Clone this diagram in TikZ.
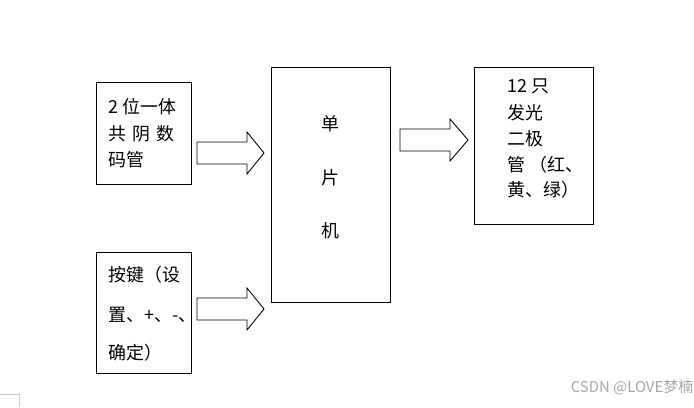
\documentclass[tikz,border=0pt]{standalone}
\usepackage{fontspec}
\newfontfamily\cjk{Noto Sans CJK SC}
\usetikzlibrary{calc}

% hollow block arrow: start, tip, head length
\newcommand{\fatarrow}[3]{%
  \draw[fat] ($(#1)+(0,-11)$) -- ($(#2)+(-#3,-11)$) -- ($(#2)+(-#3,-21)$) -- (#2)
    -- ($(#2)+(-#3,21)$) -- ($(#2)+(-#3,11)$) -- ($(#1)+(0,11)$) -- cycle;}

\begin{document}
\begin{tikzpicture}[x=0.02cm, y=-0.02cm,
    box/.style={draw, line width=0.5pt, inner sep=0pt},
    txt/.style={anchor=base west, inner sep=0pt, font=\cjk\fontsize{10.2}{12}\selectfont},
    fat/.style={draw, line width=0.5pt, line join=miter}]
  \useasboundingbox (0,0) rectangle (694,407);

  % boxes
  \node[box, minimum width=1.9cm, minimum height=2.04cm] (seg) at (143.5,133) {};
  \node[box, minimum width=1.9cm, minimum height=2.42cm] (key) at (143.5,312.5) {};
  \node[box, minimum width=2.38cm, minimum height=4.7cm] (mcu) at (330.5,184.5) {};
  \node[box, minimum width=2.38cm, minimum height=3.14cm] (led) at (533.5,145.5) {};

  % box texts
  \node[txt] (seg1) at (108,113) {2 位一体};
  \node[txt] (seg2) at (108,140) {共\hspace{0.12cm}阴\hspace{0.12cm}数};
  \node[txt] (seg3) at (108,166) {码管};

  \node[txt] (key1) at (108,281) {按键（设};
  \node[txt] (key2) at (108,321) {置、+、-、};
  \node[txt] (key3) at (108,359) {确定）};

  \node[txt] (mcu1) at (321,130) {单};
  \node[txt] (mcu2) at (321,184) {片};
  \node[txt] (mcu3) at (321,237) {机};

  \node[txt] (led1) at (507,92) {12 只};
  \node[txt] (led2) at (507,119) {发光};
  \node[txt] (led3) at (507,145) {二极};
  \node[txt] (led4) at (507,171) {管 （红、};
  \node[txt] (led5) at (507,196) {黄、绿）};

  % arrows
  \coordinate (segR) at (197,153);
  \coordinate (mcuL1) at (264,153);
  \coordinate (keyR) at (197,309);
  \coordinate (mcuL2) at (264,309);
  \coordinate (mcuR) at (400,140);
  \coordinate (ledL) at (468,140);
  \fatarrow{segR}{mcuL1}{17}
  \fatarrow{keyR}{mcuL2}{17}
  \fatarrow{mcuR}{ledL}{18}

  % page corner and watermark
  \draw[gray!40, line width=0.4pt] (0,394) -- (19,394) -- (19,407);
  \node[gray!70, font=\cjk\fontsize{8.5}{10}\selectfont] (mark) at (632,388) {CSDN @LOVE梦楠};
\end{tikzpicture}
\end{document}
